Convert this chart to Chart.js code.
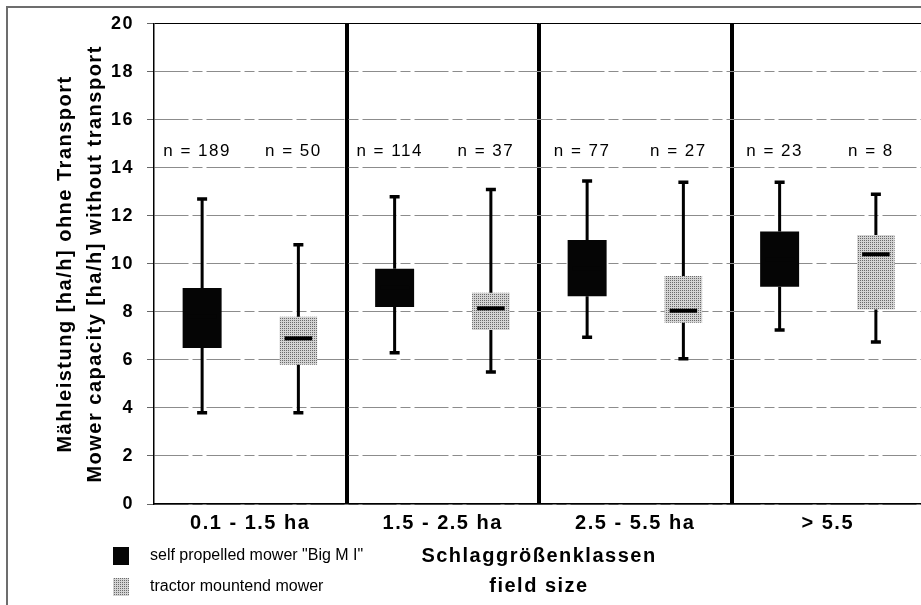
<!DOCTYPE html>
<html>
<head>
<meta charset="utf-8">
<script src="https://cdn.jsdelivr.net/npm/chart.js@4.4.1/dist/chart.umd.min.js"></script>
<style>
html, body { margin: 0; padding: 0; background: #fff; overflow: hidden; }
canvas { display: block; }
</style>
</head>
<body>
<canvas id="mowerChart" width="924" height="605"></canvas>
<script>
var categories = ['0.1 - 1.5 ha', '1.5 - 2.5 ha', '2.5 - 5.5 ha', '> 5.5'];
var seriesLabels = ['self propelled mower "Big M I"', 'tractor mountend mower'];
var yTickValues = [0, 2, 4, 6, 8, 10, 12, 14, 16, 18, 20];
var yTitleLines = ['Mähleistung [ha/h] ohne Transport', 'Mower capacity [ha/h] without transport'];
var xTitleLines = ['Schlaggrößenklassen', 'field size'];

// self propelled mower
var selfMin = [3.8, 6.3, 6.95, 7.25];
var selfQ1 = [6.5, 8.2, 8.65, 9.05];
var selfMedian = [7.8, 9.0, 9.8, 10.2];
var selfQ3 = [9.0, 9.8, 11.0, 11.35];
var selfMax = [12.7, 12.8, 13.45, 13.4];
var selfN = [189, 114, 77, 23];

// tractor mounted mower
var tractorMin = [3.8, 5.5, 6.05, 6.75];
var tractorQ1 = [5.8, 7.25, 7.55, 8.1];
var tractorMedian = [6.9, 8.15, 8.05, 10.4];
var tractorQ3 = [7.8, 8.8, 9.5, 11.2];
var tractorMax = [10.8, 13.1, 13.4, 12.9];
var tractorN = [50, 37, 27, 8];

var nLabelLevel = 14.7;

var stats = [
    { min: selfMin, med: selfMedian, max: selfMax, n: selfN },
    { min: tractorMin, med: tractorMedian, max: tractorMax, n: tractorN }
];

function boxes(q1, q3) {
    return categories.map(function (c, i) { return [q1[i], q3[i]]; });
}

// stippled grey fill like the printed raster
function stipple() {
    var c = document.createElement('canvas');
    c.width = 2; c.height = 2;
    var p = c.getContext('2d');
    p.fillStyle = '#d4d4d4';
    p.fillRect(0, 0, 2, 2);
    p.fillStyle = '#6a6a6a';
    p.fillRect(0, 0, 1, 1);
    return p.createPattern(c, 'repeat');
}
var lightFill = stipple();
var darkFill = '#050505';

var boxPlotExtras = {
    id: 'boxPlotExtras',
    beforeDraw: function (chart) {
        var ctx = chart.ctx;
        ctx.letterSpacing = '1.5px';
        ctx.save();
        ctx.strokeStyle = '#6d6d6d';
        ctx.lineWidth = 2;
        ctx.beginPath();
        ctx.moveTo(7, chart.height);
        ctx.lineTo(7, 7);
        ctx.lineTo(chart.width, 7);
        ctx.stroke();
        ctx.restore();
    },
    afterDatasetsDraw: function (chart) {
        var ctx = chart.ctx, y = chart.scales.y;
        chart.data.datasets.forEach(function (ds, d) {
            var st = stats[d];
            chart.getDatasetMeta(d).data.forEach(function (bar, i) {
                var x = bar.x, half = bar.width / 2;
                var pMin = y.getPixelForValue(st.min[i]);
                var pMax = y.getPixelForValue(st.max[i]);
                var pQ1 = y.getPixelForValue(ds.data[i][0]);
                var pQ3 = y.getPixelForValue(ds.data[i][1]);
                var pMed = y.getPixelForValue(st.med[i]);
                ctx.save();
                ctx.strokeStyle = '#000';
                ctx.lineWidth = 3;
                ctx.beginPath();
                ctx.moveTo(x, pMax); ctx.lineTo(x, pQ3);
                ctx.moveTo(x, pQ1); ctx.lineTo(x, pMin);
                ctx.stroke();
                ctx.lineWidth = 3.5;
                ctx.beginPath();
                ctx.moveTo(x - 5, pMax); ctx.lineTo(x + 5, pMax);
                ctx.moveTo(x - 5, pMin); ctx.lineTo(x + 5, pMin);
                ctx.stroke();
                // median; on the black boxes it disappears like in print
                ctx.strokeStyle = d === 0 ? darkFill : '#000';
                ctx.lineWidth = 4;
                ctx.beginPath();
                ctx.moveTo(x - half + 5, pMed); ctx.lineTo(x + half - 5, pMed);
                ctx.stroke();
                ctx.fillStyle = '#000';
                ctx.font = '17px "Liberation Sans", Arial, sans-serif';
                ctx.textAlign = 'center';
                ctx.textBaseline = 'middle';
                ctx.fillText('n = ' + st.n[i], x - 5, y.getPixelForValue(nLabelLevel));
                ctx.restore();
            });
        });
    },
    afterDraw: function (chart) {
        // legend bottom left
        var ctx = chart.ctx;
        ctx.save();
        ctx.letterSpacing = '0px';
        ctx.font = '16px "Liberation Sans", Arial, sans-serif';
        ctx.textBaseline = 'middle';
        chart.data.datasets.forEach(function (ds, d) {
            var cy = 556 + d * 31;
            ctx.fillStyle = ds.backgroundColor;
            ctx.fillRect(113, cy - 9, 16, 18);
            ctx.fillStyle = '#000';
            ctx.fillText(ds.label, 150, cy);
        });
        ctx.restore();
    }
};

Chart.defaults.font.family = '"Liberation Sans", Arial, sans-serif';
Chart.defaults.color = '#000';

var mowerChart = new Chart(document.getElementById('mowerChart').getContext('2d'), {
    type: 'bar',
    data: {
        labels: categories,
        datasets: [{
            label: seriesLabels[0],
            data: boxes(selfQ1, selfQ3),
            backgroundColor: darkFill,
            borderWidth: 0,
            categoryPercentage: 1.0,
            barPercentage: 0.405
        }, {
            label: seriesLabels[1],
            data: boxes(tractorQ1, tractorQ3),
            backgroundColor: lightFill,
            borderWidth: 0,
            categoryPercentage: 1.0,
            barPercentage: 0.39
        }]
    },
    options: {
        responsive: false,
        animation: false,
        layout: { padding: { top: 23, left: 0, right: 0, bottom: 0 } },
        plugins: {
            legend: { display: false },
            tooltip: { enabled: false }
        },
        scales: {
            x: {
                afterFit: function (s) { s.height = 101; },
                border: { color: '#000', width: 1.5 },
                grid: {
                    offset: true,
                    drawTicks: false,
                    color: function (c) { return c.index > 0 ? '#000' : 'rgba(0,0,0,0)'; },
                    lineWidth: function (c) { return c.index > 0 ? 4 : 1; }
                },
                ticks: {
                    color: '#000',
                    font: { size: 20, weight: 'bold' },
                    padding: 7,
                    maxRotation: 0,
                    autoSkip: false
                },
                title: {
                    display: true,
                    text: xTitleLines,
                    color: '#000',
                    font: { size: 20, weight: 'bold', lineHeight: 1.5 },
                    padding: { top: 0, bottom: 4 }
                }
            },
            y: {
                min: 0,
                max: 20,
                afterBuildTicks: function (s) {
                    s.ticks = yTickValues.map(function (v) { return { value: v }; });
                },
                afterFit: function (s) { s.width = 154; },
                border: {
                    color: '#000',
                    width: 1.5,
                    dash: function (c) { return c.tick && c.tick.value === 20 ? [] : [34, 4, 10, 4]; }
                },
                grid: {
                    color: function (c) { return c.tick && c.tick.value === 20 ? '#000' : '#8c8c8c'; },
                    lineWidth: 1,
                    tickLength: 7,
                    tickColor: '#666'
                },
                ticks: {
                    color: '#000',
                    font: { size: 18, weight: 'bold' },
                    padding: 13
                },
                title: {
                    display: true,
                    text: yTitleLines,
                    color: '#000',
                    font: { size: 20, weight: 'bold', lineHeight: 1.5 },
                    padding: { top: 50, bottom: 0 }
                }
            }
        }
    },
    plugins: [boxPlotExtras]
});
</script>
</body>
</html>
